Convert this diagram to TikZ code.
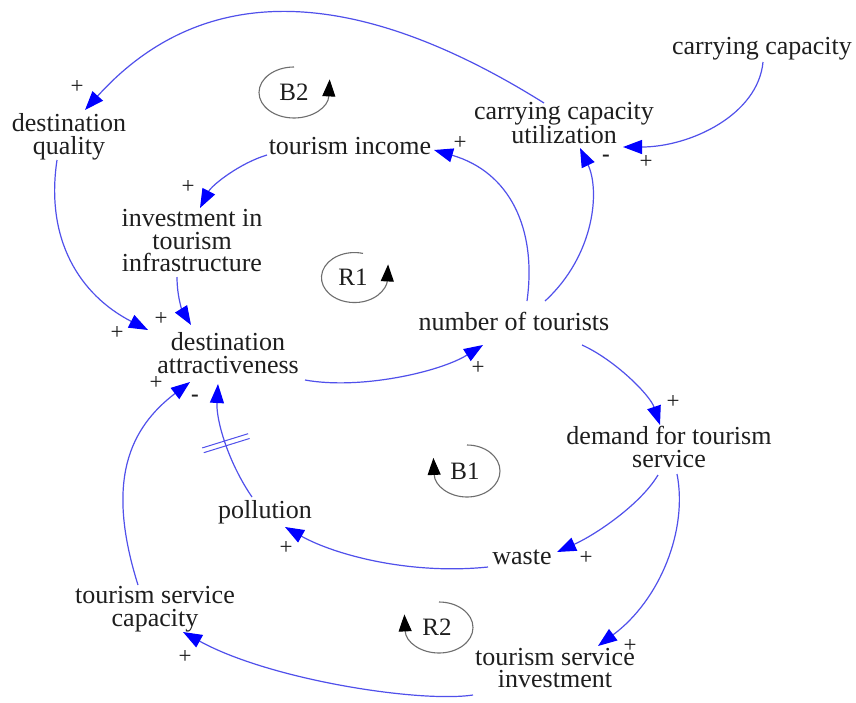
\documentclass[tikz,border=0pt]{standalone}
\usepackage{fontspec}
\setmainfont{Liberation Serif}
\usetikzlibrary{arrows.meta,decorations.markings}
\definecolor{linkblue}{RGB}{80,80,235}
\definecolor{tipblue}{RGB}{0,0,255}
\definecolor{loopgray}{RGB}{110,110,110}
\definecolor{inkgray}{RGB}{30,30,30}
\begin{document}
\begin{tikzpicture}[x=1pt,y=-1pt,
  var/.style={inner sep=0pt, align=center, text=inkgray, font=\fontsize{26}{22.5}\selectfont},
  link/.style={draw=linkblue, line width=1.2pt,
    -{Triangle[length=19pt,width=14pt,color=tipblue,fill=tipblue]}},
  sgn/.style={inner sep=0pt, text=inkgray, font=\fontsize{23}{23}\selectfont},
  looparc/.style={draw=loopgray, line width=1.1pt, shorten >=-14pt,
    -{Triangle[length=17pt,width=13pt,color=black,fill=black]}},
  looplabel/.style={inner sep=0pt, text=inkgray, font=\fontsize{25}{25}\selectfont},
  delaymark/.style={postaction={decorate, decoration={markings,
    mark=at position 0.5 with {\draw[arrows=-, draw=linkblue, line width=1pt]
      (-2.5,-24) -- (-2.5,24) (2.5,-24) -- (2.5,24);}}}}
]
% canvas
\fill[white] (0,0) rectangle (856,702);
\useasboundingbox (0,0) rectangle (856,702);

% variables
\node[var] (dq) at (69,137) {destination\\quality};
\node[var] (cc) at (762,49) {carrying capacity};
\node[var, font=\fontsize{26}{20}\selectfont] (ccu) at (564,123) {carrying capacity\\utilization};
\node[var] (ti) at (350,146) {tourism income};
\node[var] (inv) at (192,241) {investment in\\tourism\\infrastructure};
\node[var] (nt) at (514,321) {number of tourists};
\node[var] (da) at (228,353) {destination\\attractiveness};
\node[var] (dem) at (669,447) {demand for tourism\\service};
\node[var] (pol) at (265,512) {pollution};
\node[var] (waste) at (522,557) {waste};
\node[var] (tsc) at (155,609) {tourism service\\capacity};
\node[var] (tsi) at (555,668) {tourism service\\investment};

% causal links
\draw[link] ([shift={(-20,-20)}]ccu.center) .. controls +(-195,-122) and +(115,-127) .. ([shift={(16,-27)}]dq.center);
\draw[link] ([shift={(1,13)}]cc.center) .. controls +(-5,53) and +(67,0) .. ([shift={(59,24)}]ccu.center);
\draw[link] ([shift={(31,-20)}]nt.center) .. controls +(50,-46) and +(20,42) .. ([shift={(16,25)}]ccu.center);
\draw[link] ([shift={(13,-20)}]nt.center) .. controls +(10,-72) and +(76,22) .. ([shift={(84,4)}]ti.center);
\draw[link] ([shift={(-83,9)}]ti.center) .. controls +(-27,8) and +(12,-23) .. ([shift={(8,-33)}]inv.center);
\draw[link] ([shift={(-15,36)}]inv.center) .. controls +(0,21) and +(-8,-13) .. ([shift={(-37,-28)}]da.center);
\draw[link] ([shift={(-12,23)}]dq.center) .. controls +(-12,80) and +(-68,-35) .. ([shift={(-80,-23)}]da.center);
\draw[link] ([shift={(77,27)}]da.center) .. controls +(55,10) and +(-43,27) .. ([shift={(-31,24)}]nt.center);
\draw[link] ([shift={(68,24)}]nt.center) .. controls +(33,15) and +(-10,-30) .. ([shift={(-9,-22)}]dem.center);
\draw[link] ([shift={(-11,28)}]dem.center) .. controls +(-18,30) and +(38,-17) .. ([shift={(35,-5)}]waste.center);
\draw[link] ([shift={(8,27)}]dem.center) .. controls +(11,56) and +(62,-46) .. ([shift={(43,-22)}]tsi.center);
\draw[link] ([shift={(-34,10)}]waste.center) .. controls +(-78,8) and +(50,28) .. ([shift={(20,15)}]pol.center);
\draw[link, delaymark] ([shift={(-13,-15)}]pol.center) .. controls +(-24,-35) and +(-2,36) .. ([shift={(-10,31)}]da.center);
\draw[link] ([shift={(-17,-24)}]tsc.center) .. controls +(-33,-105) and +(-60,46) .. ([shift={(-38,29)}]da.center);
\draw[link] ([shift={(-82,27)}]tsi.center) .. controls +(-53,8) and +(87,48) .. ([shift={(28,23)}]tsc.center);

% polarities
\node[sgn] (p1) at (77,87) {+};
\node[sgn] (p2) at (646,162) {+};
\node[sgn, font=\fontsize{23}{23}\bfseries] (p3) at (606,158) {-};
\node[sgn] (p4) at (460,143) {+};
\node[sgn] (p5) at (188,187) {+};
\node[sgn] (p6) at (161,319) {+};
\node[sgn] (p7) at (117,333) {+};
\node[sgn] (p8) at (478,368) {+};
\node[sgn] (p9) at (673,402) {+};
\node[sgn] (p10) at (586,558) {+};
\node[sgn] (p11) at (630,646) {+};
\node[sgn] (p12) at (286,548) {+};
\node[sgn, font=\fontsize{23}{23}\bfseries] (p13) at (195,398) {-};
\node[sgn] (p14) at (156,383) {+};
\node[sgn] (p15) at (185,657) {+};

% loop identifiers
\draw[looparc] (294,67) arc[start angle=-90, end angle=-358, x radius=35, y radius=25.5];
\node[looplabel] (b2) at (294,92) {B2};
\draw[looparc] (363,253.4) arc[start angle=-75, end angle=-358, x radius=33, y radius=25];
\node[looplabel] (r1) at (353,277) {R1};
\draw[looparc] (467,445) arc[start angle=-90, end angle=178, x radius=33, y radius=26];
\node[looplabel] (b1) at (465,471) {B1};
\draw[looparc] (439,602) arc[start angle=-90, end angle=178, x radius=34, y radius=25.5];
\node[looplabel] (r2) at (437,627) {R2};
\end{tikzpicture}
\end{document}
